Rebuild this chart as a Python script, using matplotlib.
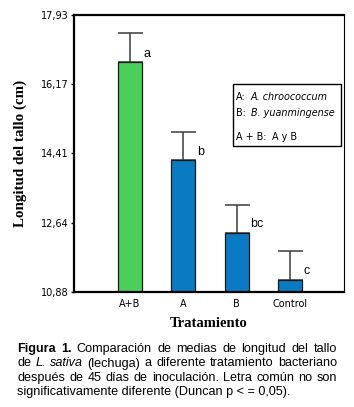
import matplotlib
matplotlib.use("Agg")
import matplotlib.pyplot as plt
from matplotlib.patches import Rectangle

# data
tratamientos = ["A+B", "A", "B", "Control"]
medias = [16.73, 14.23, 12.38, 11.19]
error_sup = [0.73, 0.72, 0.72, 0.73]
letras = ["a", "b", "bc", "c"]
colores = ["#4ccf5a", "#0a7bc2", "#0a7bc2", "#0a7bc2"]
yticks = [10.88, 12.64, 14.41, 16.17, 17.93]
ytick_labels = ["10,88", "12,64", "14,41", "16,17", "17,93"]

W, H = 354, 407
fig = plt.figure(figsize=(W / 100, H / 100), dpi=100)
ax = fig.add_axes([74 / W, 1 - 292 / H, 270 / W, 277 / H])

x = list(range(len(tratamientos)))
ax.bar(x, medias, width=0.45, color=colores, edgecolor="#1a1a1a", linewidth=0.9, zorder=2)
ax.errorbar(x, medias, yerr=[[0] * len(medias), error_sup], fmt="none",
            ecolor="#3a3a3a", elinewidth=1.1, capsize=9, capthick=1.1, zorder=1)
for xi, m, l in zip(x, medias, letras):
    ax.text(xi + 0.25, m + 0.22, l, fontsize=9, family="Liberation Sans",
            ha="left", va="center")

ax.set_xlim(-1.04, 4.0)
ax.set_ylim(10.88, 17.93)
ax.set_yticks(yticks)
ax.set_yticklabels(ytick_labels, family="DejaVu Sans", fontsize=7)
ax.set_xticks(x)
ax.set_xticklabels(tratamientos, family="DejaVu Sans", fontsize=7)
ax.tick_params(axis="x", length=0, pad=5)
ax.tick_params(axis="y", length=2.5, width=1, pad=1.5)
for s in ["left", "bottom", "top"]:
    ax.spines[s].set_linewidth(1.6)
ax.spines["right"].set_linewidth(0.8)

ax.set_ylabel("Longitud del tallo (cm)", family="Liberation Serif", weight="bold",
              fontsize=10.8)
ax.yaxis.set_label_coords(-0.175, 0.5)
ax.set_xlabel("Tratamiento", family="Liberation Serif", weight="bold", fontsize=10.5)
ax.xaxis.set_label_coords(0.5, -0.09)

# legend box
ax.add_patch(Rectangle((0.589, 0.527), 0.4, 0.224, transform=ax.transAxes,
                       fill=False, edgecolor="black", linewidth=1.0, zorder=3))

fig.canvas.draw()
renderer = fig.canvas.get_renderer()


def draw_pieces(x0, y, pieces, size, family, gap=None, right=None):
    # pieces: list of (text, weight, style); x0, y in figure pixels
    objs = []
    widths = []
    for txt, wt, st in pieces:
        t = fig.text(0, y / H, txt, fontsize=size, family=family, weight=wt,
                     style=st, va="baseline", ha="left")
        widths.append(t.get_window_extent(renderer).width)
        objs.append(t)
    if right is not None and len(pieces) > 1:
        gap = (right - x0 - sum(widths)) / (len(pieces) - 1)
    cur = x0
    for t, w in zip(objs, widths):
        t.set_x(cur / W)
        cur += w + gap


leg_x = 236
draw_pieces(leg_x, 407 - 99.5, [("A:", "normal", "normal"), ("A. chroococcum", "normal", "italic")],
            6.9, "DejaVu Sans", gap=5)
draw_pieces(leg_x, 407 - 116.5, [("B:", "normal", "normal"), ("B. yuanmingense", "normal", "italic")],
            6.9, "DejaVu Sans", gap=5)
draw_pieces(leg_x, 407 - 139.5, [("A + B:", "normal", "normal"), ("A y B", "normal", "normal")],
            6.9, "DejaVu Sans", gap=5)

# caption, justified
N, B, I = "normal", "bold", "italic"
cap_lines = [
    [("Figura", B, N), ("1.", B, N), ("Comparación", N, N), ("de", N, N), ("medias", N, N),
     ("de", N, N), ("longitud", N, N), ("del", N, N), ("tallo", N, N)],
    [("de", N, N), ("L.", N, I), ("sativa", N, I), ("(lechuga)", N, N), ("a", N, N),
     ("diferente", N, N), ("tratamiento", N, N), ("bacteriano", N, N)],
    [(w, N, N) for w in "después de 45 días de inoculación. Letra común no son".split()],
]
baselines = [352, 366.5, 381, 395.5]
for line, yb in zip(cap_lines, baselines):
    draw_pieces(17, 407 - yb, line, 9.1, "Liberation Sans", right=337)
fig.text(17 / W, 1 - baselines[3] / H, "significativamente diferente (Duncan p < = 0,05).",
         fontsize=9.1, family="Liberation Sans", va="baseline", ha="left")

fig.savefig("out.png", dpi=100)
